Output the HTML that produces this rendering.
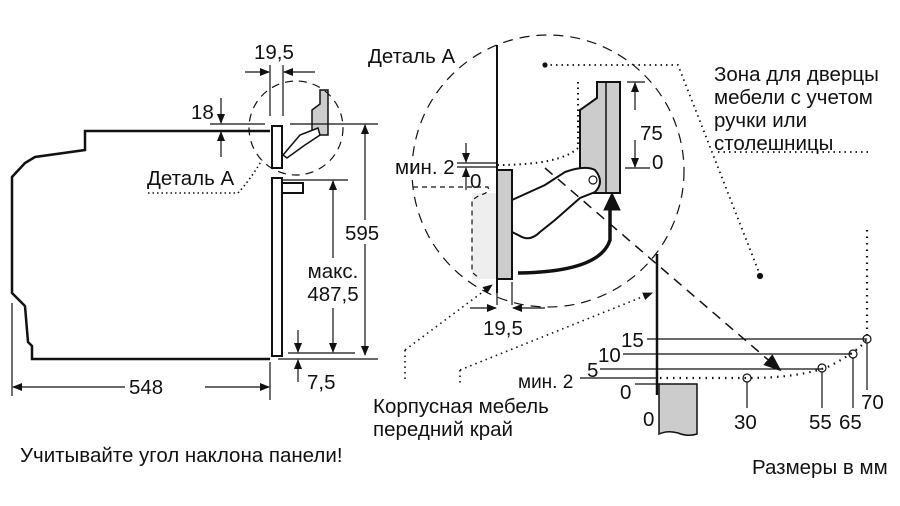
<!DOCTYPE html>
<html><head><meta charset="utf-8"><style>
body{margin:0;background:#fff}
svg{display:block}
text{font-family:"Liberation Sans",sans-serif;font-size:20.5px;fill:#111}
</style></head><body>
<svg width="900" height="506" viewBox="0 0 900 506" xmlns="http://www.w3.org/2000/svg">
<defs>
<marker id="a" markerWidth="10" markerHeight="8" refX="9" refY="4" orient="auto" markerUnits="userSpaceOnUse"><path d="M0,0L10,4L0,8z" fill="#111"/></marker>
<marker id="b" markerWidth="18" markerHeight="14" refX="16" refY="7" orient="auto" markerUnits="userSpaceOnUse"><path d="M0,0L18,7L0,14z" fill="#111"/></marker>
</defs>
<g stroke="#111" fill="none" stroke-width="1.2">
<path d="M270,131H85V150L35,157L25,163L12,177V293L25,306L28,342L32,346V359H270" stroke-width="2.5"/>
<rect x="272" y="126" width="10" height="42" stroke-width="2" fill="#fff"/>
<rect x="272" y="178" width="10" height="178" stroke-width="2" fill="#fff"/>
<rect x="282" y="183" width="21" height="10" stroke-width="2" fill="#fff"/>
<path d="M320,90H328V135H312V110L320,104Z" fill="#ccc" stroke-width="1.5"/>
<path d="M283,155L300,135L318,128L320,135L305,145L287,158Z" fill="#fff" stroke-width="1.5"/>
<circle cx="296" cy="128" r="47" stroke-dasharray="8,6"/>
<line x1="270" y1="65" x2="270" y2="116"/><line x1="283" y1="65" x2="283" y2="116"/>
<line x1="245" y1="72" x2="269" y2="72" marker-end="url(#a)"/><line x1="315" y1="72" x2="284" y2="72" marker-end="url(#a)"/>
<line x1="221" y1="98" x2="221" y2="123" marker-end="url(#a)"/><line x1="221" y1="157" x2="221" y2="132" marker-end="url(#a)"/>
<line x1="210" y1="124" x2="265" y2="124"/><line x1="290" y1="124" x2="378" y2="124"/>
<line x1="365" y1="180" x2="365" y2="125" marker-end="url(#a)"/><line x1="365" y1="180" x2="365" y2="355" marker-end="url(#a)"/>
<line x1="283" y1="180" x2="348" y2="180"/>
<line x1="333" y1="260" x2="333" y2="181" marker-end="url(#a)"/><line x1="333" y1="300" x2="333" y2="352" marker-end="url(#a)"/>
<line x1="288" y1="353" x2="355" y2="353"/><line x1="278" y1="359" x2="378" y2="359"/>
<line x1="298" y1="330" x2="298" y2="352" marker-end="url(#a)"/><line x1="298" y1="382" x2="298" y2="360" marker-end="url(#a)"/>
<line x1="12" y1="303" x2="12" y2="396"/><line x1="270" y1="362" x2="270" y2="400"/>
<line x1="125" y1="387" x2="13" y2="387" marker-end="url(#a)"/><line x1="205" y1="387" x2="269" y2="387" marker-end="url(#a)"/>
<path d="M148,193H238Q250,180 262,160" stroke-dasharray="1.5,3" stroke-width="1.6"/>
<circle cx="548" cy="171" r="136" stroke-dasharray="10,7"/>
<rect x="472" y="193" width="25" height="86" fill="#eee" stroke="none"/>
<path d="M413,187H488Q490,193 480,195L472,200V272L480,279" stroke-dasharray="5,4"/>
<line x1="497" y1="45" x2="497" y2="293" stroke-width="2"/>
<rect x="497" y="170" width="15" height="109" fill="#ccc" stroke-width="2"/>
<line x1="457" y1="163" x2="497" y2="163"/><line x1="457" y1="167" x2="497" y2="167"/>
<line x1="466" y1="143" x2="466" y2="162" marker-end="url(#a)"/><line x1="466" y1="190" x2="466" y2="168" marker-end="url(#a)"/>
<path d="M578,82V148Q560,165 497,165" stroke-dasharray="1.5,4" stroke-width="2"/>
<path d="M597,82H620V193H580V110L597,98Z" fill="#ccc" stroke-width="2"/>
<line x1="606" y1="82" x2="606" y2="193" stroke-width="1.5"/>
<path d="M512,200L545,185L565,172Q585,165 595,170Q605,182 595,192L580,198L555,220L540,232Q530,242 520,236L512,232Z" fill="#fff" stroke-width="2"/>
<circle cx="593" cy="180" r="4" fill="#fff"/>
<path d="M518,273Q600,272 610,240V206" stroke-width="3.5"/>
<path d="M604,210L612,193L620,210Z" fill="#111" stroke-width="1"/>
<line x1="627" y1="82" x2="645" y2="82"/><line x1="625" y1="168" x2="650" y2="168"/>
<line x1="635" y1="110" x2="635" y2="83" marker-end="url(#a)"/><line x1="635" y1="140" x2="635" y2="167" marker-end="url(#a)"/>
<line x1="497" y1="285" x2="497" y2="305"/><line x1="512" y1="282" x2="512" y2="305"/>
<line x1="470" y1="308" x2="496" y2="308" marker-end="url(#a)"/><line x1="545" y1="308" x2="513" y2="308" marker-end="url(#a)"/>
<path d="M545,65H678L760,275" stroke-dasharray="1.5,4" stroke-width="1.8"/>
<circle cx="545" cy="65" r="2" fill="#111"/><circle cx="760" cy="276" r="2.5" fill="#111"/>
<line x1="718" y1="152" x2="870" y2="152" stroke-dasharray="1.5,4" stroke-width="1.8"/>
<path d="M545,168L780,370" stroke-dasharray="10,7" stroke-width="1.5" marker-end="url(#b)"/>
<path d="M405,350L492,285" stroke-dasharray="1.5,4" stroke-width="1.6" marker-end="url(#a)"/>
<path d="M460,370L652,293" stroke-dasharray="1.5,4" stroke-width="1.6" marker-end="url(#a)"/>
<line x1="405" y1="350" x2="405" y2="380" stroke-dasharray="1.5,4" stroke-width="1.6"/>
<line x1="460" y1="370" x2="460" y2="385" stroke-dasharray="1.5,4" stroke-width="1.6"/>
<line x1="657" y1="254" x2="657" y2="395" stroke-width="2.5"/>
<path d="M659,384H697V434Q688,437 678,433Q668,430 659,434Z" fill="#ccc" stroke-width="1.5"/>
<line x1="647" y1="339" x2="867" y2="339"/><line x1="623" y1="354" x2="852" y2="354"/>
<line x1="600" y1="369" x2="822" y2="369"/><line x1="580" y1="378" x2="657" y2="378"/>
<line x1="635" y1="384" x2="659" y2="384"/>
<path d="M660,378H747Q800,378 830,366Q860,350 867,339V230" stroke-dasharray="1.5,5" stroke-width="2.2"/>
<circle cx="747" cy="378" r="4"/><circle cx="822" cy="368" r="4"/><circle cx="853" cy="354" r="4"/><circle cx="867" cy="339" r="4"/>
<line x1="747" y1="382" x2="747" y2="408"/><line x1="822" y1="372" x2="822" y2="408"/>
<line x1="853" y1="358" x2="853" y2="408"/><line x1="867" y1="343" x2="867" y2="390"/>
</g>
<rect x="345" y="220" width="34" height="24" fill="#fff"/>
<rect x="300" y="258" width="64" height="50" fill="#fff"/>
<text x="254" y="59">19,5</text>
<text x="191" y="119">18</text>
<text x="147" y="185">Деталь А</text>
<text x="345" y="240">595</text>
<text x="333" y="278" text-anchor="middle">макс.</text>
<text x="333" y="301" text-anchor="middle">487,5</text>
<text x="307" y="389">7,5</text>
<text x="129" y="394">548</text>
<text x="368" y="63">Деталь А</text>
<text x="395" y="174">мин. 2</text>
<text x="470" y="188">0</text>
<text x="640" y="140">75</text>
<text x="652" y="169">0</text>
<text x="483" y="335">19,5</text>
<text x="714" y="81">Зона для дверцы</text>
<text x="714" y="104">мебели с учетом</text>
<text x="714" y="127">ручки или</text>
<text x="714" y="150">столешницы</text>
<text x="621" y="347">15</text>
<text x="598" y="362">10</text>
<text x="587" y="377">5</text>
<text x="518" y="388" style="font-size:19px">мин. 2</text>
<text x="620" y="399">0</text>
<text x="643" y="426">0</text>
<text x="734" y="429">30</text>
<text x="809" y="429">55</text>
<text x="839" y="429">65</text>
<text x="861" y="409">70</text>
<text x="373" y="413">Корпусная мебель</text>
<text x="373" y="436">передний край</text>
<text x="20" y="462">Учитывайте угол наклона панели!</text>
<text x="752" y="474">Размеры в мм</text>
</svg>
</body></html>
